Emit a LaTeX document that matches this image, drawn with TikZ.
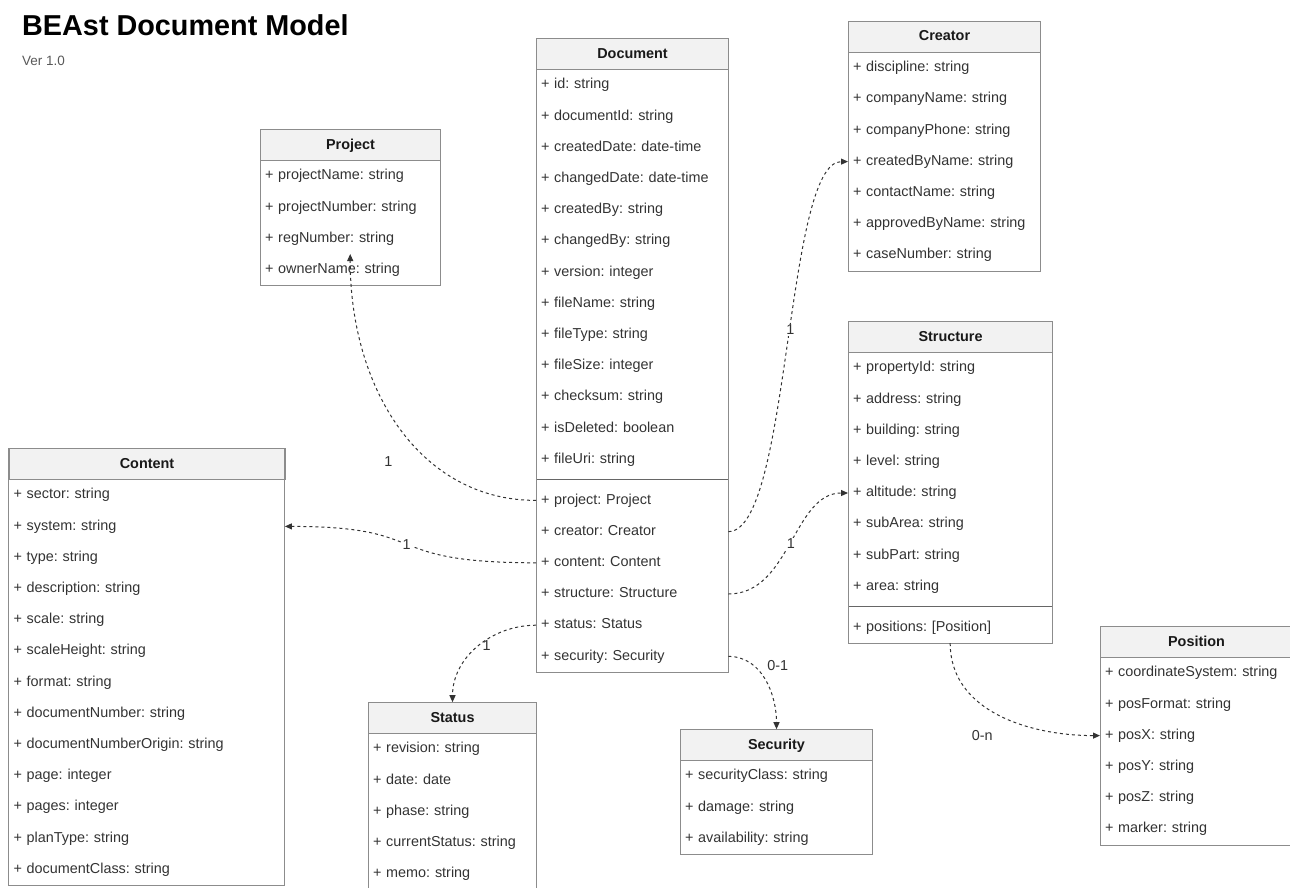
\documentclass[tikz,border=0pt]{standalone}
\usepackage{fontspec}
\setmainfont{Liberation Sans}
\frenchspacing
\usetikzlibrary{arrows.meta}
\definecolor{umlline}{HTML}{8C8C8C}
\definecolor{headfill}{HTML}{F2F2F2}
\definecolor{umltext}{HTML}{333333}
\tikzset{>={Triangle[length=7pt,width=6pt]},every node/.style={font=\fontsize{14.4}{17}\selectfont},
umlhead/.style={draw=umlline,fill=headfill,line width=1pt,minimum height=31.2pt,inner sep=0pt,text height=10.4pt,text depth=3pt,font=\fontsize{14.4}{17}\selectfont\bfseries,text=black!90},
umlrow/.style={inner xsep=4.8pt,inner ysep=0pt,minimum height=31.2pt,align=left,text height=10.4pt,text depth=3pt,text=umltext},
umlframe/.style={draw=umlline,line width=1pt},umlsep/.style={draw=black!60,line width=1.2pt},
assoc/.style={->,draw=black!80,line width=1pt,dash pattern=on 3pt off 3pt},mult/.style={text=umltext,inner sep=1pt}}
% class box: name, left, top, width, title, attributes, references
\newcommand\umlclass[7]{%
\node[umlhead,minimum width=#4pt,anchor=north west] (#1) at (#2,#3) {#5};
\pgfmathsetmacro\umlw{#4-9.6}
\foreach \attr [count=\i] in {#6}{\node[umlrow,text width=\umlw pt,anchor=north west] (#1-\i) at (#2,#3+31.2*\i) {\attr};\xdef\umln{\i}\xdef\umllast{#1-\i}}
\if\relax\detokenize{#7}\relax\else
\pgfmathsetmacro\umltop{#3+31.2*(\umln+1)+9.6}
\draw[umlsep] (#2,\umltop-4.8) -- ++(#4,0);
\foreach \attr [count=\j] in {#7}{\pgfmathtruncatemacro\rowno{\umln+\j}\node[umlrow,text width=\umlw pt,anchor=north west] (#1-\rowno) at (#2,\umltop+31.2*\j-31.2) {\attr};\xdef\umllast{#1-\rowno}}
\fi
\draw[umlframe] (#1.north west) rectangle (\umllast.south east);}

\begin{document}
\begin{tikzpicture}[x=1pt,y=-1pt]
\useasboundingbox (0,0) rectangle (1290,887);
\node[anchor=base west,inner sep=0pt,font=\fontsize{28.8}{32}\selectfont\bfseries] (title) at (22,35) {BEAst Document Model};
\node[anchor=base west,inner sep=0pt,font=\fontsize{13.5}{16}\selectfont,text=black!65] (ver) at (22,65) {Ver 1.0};
\umlclass{doc}{536}{38.2}{192}{Document}{+ id: string,+ documentId: string,+ createdDate: date-time,+ changedDate: date-time,+ createdBy: string,+ changedBy: string,+ version: integer,+ fileName: string,+ fileType: string,+ fileSize: integer,+ checksum: string,+ isDeleted: boolean,+ fileUri: string}{+ project: Project,+ creator: Creator,+ content: Content,+ structure: Structure,+ status: Status,+ security: Security}
\umlclass{cre}{848}{21}{192}{Creator}{+ discipline: string,+ companyName: string,+ companyPhone: string,+ createdByName: string,+ contactName: string,+ approvedByName: string,+ caseNumber: string}{}
\umlclass{prj}{260}{129.2}{180}{Project}{+ projectName: string,+ projectNumber: string,+ regNumber: string,+ ownerName: string}{}
\umlclass{cnt}{8.5}{448.2}{276}{Content}{+ sector: string,+ system: string,+ type: string,+ description: string,+ scale: string,+ scaleHeight: string,+ format: string,+ documentNumber: string,+ documentNumberOrigin: string,+ page: integer,+ pages: integer,+ planType: string,+ documentClass: string}{}
\umlclass{str}{848}{321.2}{204}{Structure}{+ propertyId: string,+ address: string,+ building: string,+ level: string,+ altitude: string,+ subArea: string,+ subPart: string,+ area: string}{+ positions: [Position]}
\umlclass{pos}{1100}{626.2}{192}{Position}{+ coordinateSystem: string,+ posFormat: string,+ posX: string,+ posY: string,+ posZ: string,+ marker: string}{}
\umlclass{sts}{368}{702.2}{168}{Status}{+ revision: string,+ date: date,+ phase: string,+ currentStatus: string,+ memo: string}{}
\umlclass{sec}{680}{729.2}{192}{Security}{+ securityClass: string,+ damage: string,+ availability: string}{}
% associations
\draw[assoc] (doc-14.west) .. controls +(-116,0) and +(0,135) .. (prj-4.north) node[mult,pos=.4,xshift=-32pt,yshift=-9pt]{1};
\draw[assoc] (doc-16.west) .. controls +(-160,0) and +(150,0) .. (cnt-2.east) node[mult,fill=white,pos=.5]{1};
\draw[assoc] (doc-15.east) .. controls +(62,0) and +(-63,0) .. (cre-4.west) node[mult,fill=white,pos=.53]{1};
\draw[assoc] (doc-17.east) .. controls +(62,0) and +(-55,0) .. (str-5.west) node[mult,fill=white,pos=.5]{1};
\draw[assoc] (doc-18.west) to[out=180,in=90] node[mult,pos=.35,xshift=-6pt,yshift=-9pt]{1} (sts.north);
\draw[assoc] (doc-19.east) to[out=0,in=90] node[mult,pos=.3,xshift=24pt]{0-1} (sec.north);
\draw[assoc] (str-9.south) to[out=-90,in=180] node[mult,pos=.5,xshift=-17pt,yshift=-20pt]{0-n} (pos-3.west);
\end{tikzpicture}
\end{document}
